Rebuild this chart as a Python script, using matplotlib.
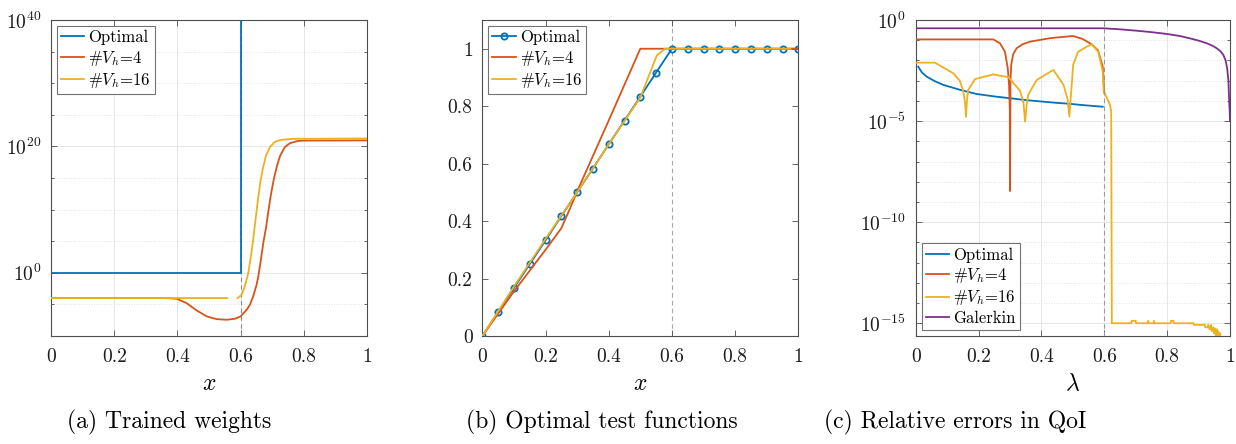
import numpy as np
import matplotlib
matplotlib.use("Agg")
import matplotlib.pyplot as plt
from matplotlib.ticker import FixedLocator, FuncFormatter, MultipleLocator, NullFormatter

plt.rcParams["font.family"] = "cmr10"
plt.rcParams["mathtext.fontset"] = "cm"
plt.rcParams["axes.unicode_minus"] = False
plt.rcParams["axes.formatter.use_mathtext"] = True

# MATLAB default palette
C_BLUE = "#0072BD"
C_ORANGE = "#D95319"
C_YELLOW = "#EDB120"
C_PURPLE = "#7E2F8E"

labels = ["Optimal", "#$V_h$=4", "#$V_h$=16", "Galerkin"]
captions = ["(a) Trained weights", "(b) Optimal test functions", "(c) Relative errors in QoI"]

# ---------------- (a) trained weights (log10 of weight) ----------------
a_x_opt = [0.0, 0.602, 0.602]
a_opt_exp = [0.0, 0.0, 45.0]

a_x_v4 = [0.0, 0.36, 0.398, 0.429, 0.461, 0.493, 0.524, 0.556, 0.582, 0.600,
          0.620, 0.630, 0.640, 0.650, 0.656, 0.664, 0.672, 0.680, 0.688, 0.696,
          0.705, 0.715, 0.725, 0.740, 0.756, 0.780, 0.800, 1.0]
a_v4_exp = [-4.0, -4.0, -4.1, -4.8, -5.95, -6.9, -7.33, -7.43, -7.27, -6.9,
            -5.8, -5.0, -3.7, -2.0, -0.6, 2.0, 4.8, 7.0, 9.8, 12.4,
            14.8, 16.9, 18.5, 19.9, 20.5, 20.85, 20.92, 20.95]

a_x_v16 = [0.0, 0.558, 0.574, 0.590, 0.603, 0.613, 0.624, 0.632, 0.640, 0.647,
           0.654, 0.662, 0.670, 0.680, 0.693, 0.708, 0.725, 0.750, 0.780, 1.0]
a_v16_exp = [-4.0, -4.0, np.nan, -4.0, -3.5, -2.2, -0.1, 2.4, 5.3, 8.3,
             11.2, 14.2, 16.4, 18.5, 19.9, 20.7, 21.0, 21.15, 21.2, 21.25]

# ---------------- (b) optimal test functions ----------------
b_x_opt = [0.0, 0.05, 0.10, 0.15, 0.20, 0.25, 0.30, 0.35, 0.40, 0.45, 0.50,
           0.55, 0.60, 0.65, 0.70, 0.75, 0.80, 0.85, 0.90, 0.95, 1.0]
b_opt = [0.0, 0.083, 0.167, 0.25, 0.333, 0.417, 0.5, 0.583, 0.667, 0.75, 0.833,
         0.917, 1.0, 1.0, 1.0, 1.0, 1.0, 1.0, 1.0, 1.0, 1.0]

b_x_v4 = [0.0, 0.10, 0.20, 0.25, 0.278, 0.30, 0.40, 0.50, 1.0]
b_v4 = [0.0, 0.155, 0.30, 0.375, 0.445, 0.503, 0.75, 1.0, 1.0]

b_x_v16 = [0.0, 0.10, 0.20, 0.30, 0.40, 0.50, 0.552, 0.578, 0.975]
b_v16 = [0.0, 0.172, 0.338, 0.50, 0.667, 0.83, 0.976, 1.0, 1.0]

# ---------------- (c) relative errors in QoI (log10) ----------------
c_x_opt = [0.008, 0.02, 0.035, 0.06, 0.088, 0.14, 0.194, 0.25, 0.30, 0.35,
           0.406, 0.45, 0.486, 0.54, 0.595]
c_opt_exp = [-2.31, -2.6, -2.8, -3.02, -3.21, -3.45, -3.66, -3.78, -3.87, -3.96,
             -4.04, -4.1, -4.14, -4.22, -4.29]

c_x_v4 = [0.0, 0.247, 0.268, 0.284, 0.293, 0.297, 0.2995, 0.300, 0.3015, 0.304,
          0.31, 0.321, 0.34, 0.364, 0.427, 0.50, 0.53, 0.56, 0.58, 0.595, 0.60]
c_v4_exp = [-0.96, -0.96, -1.15, -1.57, -2.4, -3.2, -4.5, -8.46, -3.0, -2.2,
            -1.7, -1.4, -1.2, -1.07, -0.9, -0.79, -0.93, -1.2, -1.5, -2.3, -3.6]

c_x_v16 = [0.0, 0.061, 0.12, 0.14, 0.151, 0.157, 0.160, 0.163, 0.167, 0.189,
           0.247, 0.295, 0.332, 0.343, 0.348, 0.353, 0.358, 0.385, 0.438, 0.47,
           0.483, 0.489, 0.493, 0.496, 0.501, 0.517, 0.544, 0.56, 0.581, 0.595,
           0.598, 0.602, 0.618, 0.622, 0.624,
           0.686, 0.687, 0.700, 0.701, 0.739, 0.740, 0.742, 0.757, 0.758, 0.760,
           0.811, 0.812, 0.820, 0.821, 0.884, 0.885, 0.920, 0.921, 0.930, 0.931,
           0.935, 0.940, 0.942, 0.947, 0.950, 0.953, 0.955, 0.958, 0.960, 0.963,
           0.965, 0.968, 0.970, 0.978]
c_v16_exp = [-2.11, -2.11, -2.64, -3.0, -3.5, -4.1, -4.78, -4.0, -3.46, -2.92,
             -2.69, -2.83, -3.5, -4.1, -5.03, -4.2, -3.7, -2.97, -2.47, -3.2,
             -3.9, -4.78, -3.9, -3.3, -2.2, -1.57, -1.32, -1.2, -1.57, -2.55,
             -3.54, -3.63, -4.2, -4.5, -15.0,
             -15.0, -14.88, -14.88, -15.0, -15.0, -14.88, -15.0, -15.0, -14.88, -15.0,
             -15.0, -14.88, -14.88, -15.0, -15.0, -15.08, -15.08, -15.2, -15.2, -15.08,
             -15.3, -15.08, -15.4, -15.2, -15.5, -15.25, -15.6, -15.3, -15.7, -15.4,
             -15.7, -15.5, -15.7, -15.7]

c_x_gal = [0.0, 0.597, 0.65, 0.703, 0.75, 0.799, 0.84, 0.873, 0.90, 0.926,
           0.945, 0.958, 0.97, 0.979, 0.986, 0.991, 0.995, 0.997, 0.999, 1.0]
c_gal_exp = [-0.41, -0.41, -0.46, -0.53, -0.6, -0.69, -0.79, -0.91, -1.02, -1.15,
             -1.28, -1.4, -1.55, -1.73, -2.0, -2.39, -3.0, -3.87, -4.5, -5.0]

x_split = 0.6

LW = 1.3
TICK_FS = 14
LABEL_FS = 17
LEG_FS = 12
CAP_FS = 17
FRAME = "0.3"


def pow10(v):
    return np.power(10.0, np.asarray(v, dtype=float))


def style_axes(ax):
    for s in ax.spines.values():
        s.set_color(FRAME)
        s.set_linewidth(0.8)
    ax.tick_params(which="both", direction="in", top=True, right=True,
                   colors=FRAME, labelcolor="0.1", labelsize=TICK_FS, width=0.6)
    ax.tick_params(which="major", length=4.5)
    ax.tick_params(axis="x", which="major", pad=9)
    ax.tick_params(axis="y", which="major", pad=7)
    ax.tick_params(which="minor", length=2.5)
    ax.xaxis.set_major_locator(MultipleLocator(0.2))
    ax.xaxis.set_major_formatter(FuncFormatter(lambda v, p: "%g" % round(v, 2)))


def add_legend(ax, loc):
    leg = ax.legend(loc=loc, fontsize=LEG_FS, frameon=True, fancybox=False,
                    framealpha=1.0, edgecolor="0.45", borderpad=0.25,
                    handlelength=1.4, handletextpad=0.25, labelspacing=0.2,
                    borderaxespad=0.35)
    leg.get_frame().set_linewidth(0.8)
    return leg


def exp_fmt(v, p):
    return r"$10^{%d}$" % int(round(np.log10(v)))


fig = plt.figure(figsize=(12.36, 4.44), dpi=100)
W, H = 1236.0, 444.0
ax_bottom = 1 - 336 / H
ax_height = (336 - 20) / H
ax_a = fig.add_axes([51 / W, ax_bottom, 316 / W, ax_height])
ax_b = fig.add_axes([482.3 / W, ax_bottom, 316 / W, ax_height])
ax_c = fig.add_axes([915.7 / W, ax_bottom, 314.3 / W, ax_height])

# ---- (a)
ax = ax_a
ax.axvline(x_split, color="0.55", ls=(0, (4, 3)), lw=0.8, zorder=1)
ax.plot(a_x_opt, pow10(a_opt_exp), color=C_BLUE, lw=LW, label=labels[0], zorder=3)
ax.plot(a_x_v4, pow10(a_v4_exp), color=C_ORANGE, lw=LW, label=labels[1], zorder=3)
ax.plot(a_x_v16, pow10(a_v16_exp), color=C_YELLOW, lw=LW, label=labels[2], zorder=3)
ax.set_yscale("log")
ax.set_xlim(0, 1)
ax.set_ylim(1e-10, 1e40)
style_axes(ax)
ax.yaxis.set_major_locator(FixedLocator([1e0, 1e20, 1e40]))
ax.yaxis.set_minor_locator(FixedLocator(pow10([-10, -5, 5, 10, 15, 25, 30, 35])))
ax.yaxis.set_major_formatter(FuncFormatter(exp_fmt))
ax.yaxis.set_minor_formatter(NullFormatter())
ax.grid(True, which="major", color="0.9", lw=0.7)
ax.grid(True, which="minor", axis="y", color="0.85", lw=0.6, ls=(0, (1, 2)))
ax.set_axisbelow(True)
ax.set_xlabel("$x$", fontsize=LABEL_FS, labelpad=5)
add_legend(ax, "upper left")

# ---- (b)
ax = ax_b
ax.axvline(x_split, color="0.65", ls=(0, (4, 3)), lw=0.8, zorder=1)
ax.plot(b_x_opt, b_opt, color=C_BLUE, lw=LW, marker="o", ms=4.5, mfc="none",
        mew=1.3, label=labels[0], zorder=3)
ax.plot(b_x_v4, b_v4, color=C_ORANGE, lw=LW, label=labels[1], zorder=3)
ax.plot(b_x_v16, b_v16, color=C_YELLOW, lw=LW, label=labels[2], zorder=3)
ax.set_xlim(0, 1)
ax.set_ylim(0, 1.1)
style_axes(ax)
ax.yaxis.set_major_locator(FixedLocator([0, 0.2, 0.4, 0.6, 0.8, 1.0]))
ax.yaxis.set_major_formatter(FuncFormatter(lambda v, p: "%g" % round(v, 2)))
ax.set_xlabel("$x$", fontsize=LABEL_FS, labelpad=5)
add_legend(ax, "upper left")

# ---- (c)
ax = ax_c
ax.axvline(x_split, color="0.6", ls=(0, (4, 3)), lw=0.8, zorder=4)
ax.plot(c_x_opt, pow10(c_opt_exp), color=C_BLUE, lw=LW, label=labels[0], zorder=3)
ax.plot(c_x_v4, pow10(c_v4_exp), color=C_ORANGE, lw=LW, label=labels[1], zorder=3)
ax.plot(c_x_v16, pow10(c_v16_exp), color=C_YELLOW, lw=LW, label=labels[2], zorder=3)
ax.plot(c_x_gal, pow10(c_gal_exp), color=C_PURPLE, lw=LW, label=labels[3], zorder=3)
ax.set_yscale("log")
ax.set_xlim(0, 1)
ax.set_ylim(10 ** -15.63, 1e0)
style_axes(ax)
ax.yaxis.set_major_locator(FixedLocator([1e-15, 1e-10, 1e-5, 1e0]))
ax.yaxis.set_minor_locator(FixedLocator(pow10([e for e in range(-15, 1) if e % 5 != 0])))
ax.yaxis.set_major_formatter(FuncFormatter(exp_fmt))
ax.yaxis.set_minor_formatter(NullFormatter())
ax.grid(True, which="major", color="0.9", lw=0.7)
ax.grid(True, which="minor", axis="y", color="0.85", lw=0.6, ls=(0, (1, 2)))
ax.set_axisbelow(True)
ax.set_xlabel(r"$\lambda$", fontsize=LABEL_FS, labelpad=5)
add_legend(ax, "lower left")

# ---- captions
for cx, text in zip([169, 602, 955], captions):
    fig.text(cx / W, 1 - 422 / H, text, ha="center", va="center", fontsize=CAP_FS)

fig.savefig("out.png", dpi=100)
